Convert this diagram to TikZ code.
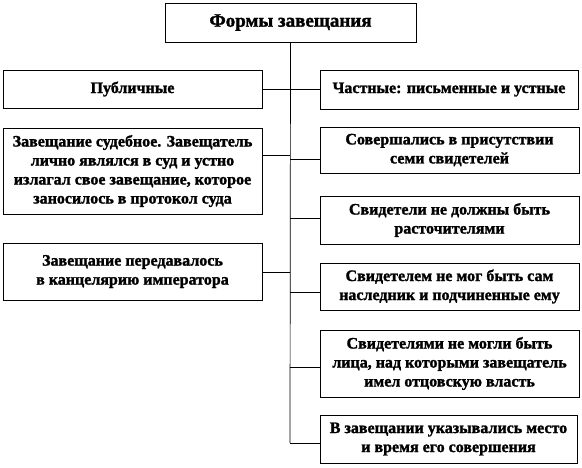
\documentclass[tikz,border=0pt]{standalone}
\usepackage{fontspec}
\setmainfont{Liberation Serif}[BoldFeatures={FakeBold=1.5}]
\begin{document}
\begin{tikzpicture}[x=1pt,y=-1pt,
  box/.style={draw=black, line width=0.7pt, fill=white, rectangle, inner sep=0pt, align=center,
    font=\fontsize{16}{19}\selectfont\bfseries},
  conn/.style={draw=black, line width=0.7pt}]
\useasboundingbox (0,0) rectangle (582,467);
\node[box, minimum width=251pt, minimum height=39pt, font=\fontsize{19}{20}\selectfont\bfseries] (top) at (290.5,22.5) {Формы завещания};
\node[box, minimum width=259pt, minimum height=38pt] (L1) at (132.5,89) {Публичные};
\node[box, minimum width=258pt, minimum height=39pt] (R1) at (449,89.5) {Частные: письменные и устные};
\node[box, minimum width=259pt, minimum height=86pt] (L2) at (132.5,171) {Завещание судебное. Завещатель\\лично являлся  в суд и устно\\излагал свое завещание, которое\\заносилось в протокол суда};
\node[box, minimum width=259pt, minimum height=46pt] (R2) at (449.5,150) {Совершались  в присутствии\\семи свидетелей};
\node[box, minimum width=259pt, minimum height=48pt] (R3) at (449.5,220) {Свидетели не должны быть\\расточителями};
\node[box, minimum width=259pt, minimum height=57pt] (L3) at (132.5,271.5) {Завещание передавалось\\в канцелярию императора};
\node[box, minimum width=259pt, minimum height=47pt] (R4) at (449.5,286.5) {Свидетелем не мог быть сам\\наследник и подчиненные ему};
\node[box, minimum width=259pt, minimum height=67pt] (R5) at (449.5,363.5) {Свидетелями не могли быть\\лица, над которыми завещатель\\имел отцовскую власть};
\node[box, minimum width=257pt, minimum height=48pt] (R6) at (448.5,439) {В завещании указывались место\\и время его совершения};
\coordinate (j2) at (290,155);
\coordinate (k2) at (290,159);
\coordinate (k3) at (290,218);
\coordinate (j3) at (290,272);
\coordinate (k4) at (290,292);
\coordinate (k5) at (290,367);
\coordinate (k6) at (290,443);
\draw[conn] (top.south) -- (k6);
\draw[conn] (L1.east) -- (R1.west |- L1.east);
\draw[conn] (L2.east |- j2) -- (j2);
\draw[conn] (k2) -- (R2.west |- k2);
\draw[conn] (k3) -- (R3.west |- k3);
\draw[conn] (L3.east |- j3) -- (j3);
\draw[conn] (k4) -- (R4.west |- k4);
\draw[conn] (k5) -- (R5.west |- k5);
\draw[conn] (k6) -- (R6.west |- k6);
\end{tikzpicture}
\end{document}
